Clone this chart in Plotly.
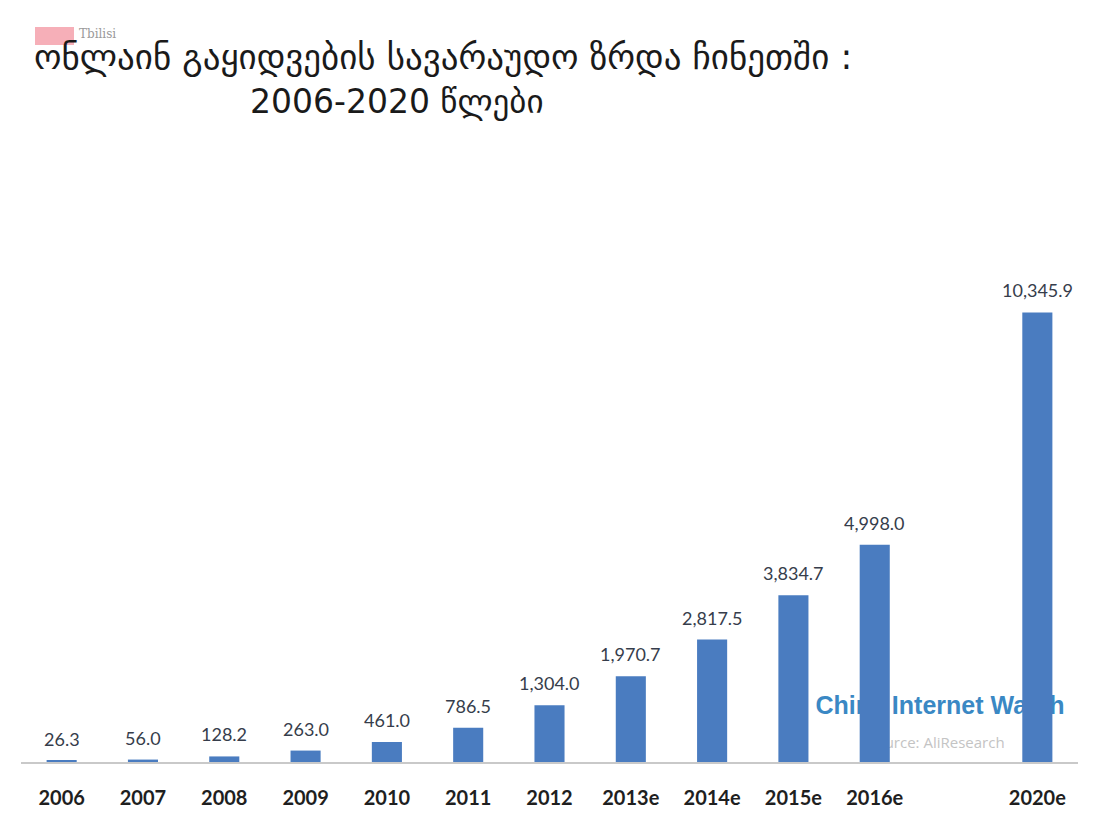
import plotly.graph_objects as go

# Online retail sales in China (values as labelled on each bar)
years = ["2006", "2007", "2008", "2009", "2010", "2011", "2012",
         "2013e", "2014e", "2015e", "2016e", "2020e"]
sales = [26.3, 56.0, 128.2, 263.0, 461.0, 786.5, 1304.0,
         1970.7, 2817.5, 3834.7, 4998.0, 10345.9]
# category order on the axis, with an empty slot before the 2020 forecast
axis_order = years[:11] + [" "] + years[11:]

title_line1 = "ონლაინ გაყიდვების სავარაუდო ზრდა ჩინეთში :"
title_line2 = "2006-2020 წლები"
watermark = "China Internet Watch"
source_note = "Source: AliResearch"
logo_text = "Tbilisi"

bar_color = "#4a7cc0"
label_color = "#363d4b"

W, H = 1112, 836
ML, MR, MT, MB = 21, 34, 284, 74
PW, PH = W - ML - MR, H - MT - MB


def px_x(x):
    """Page pixel x -> paper coordinate."""
    return (x - ML) / PW


def px_y(y):
    """Page pixel y (from top) -> paper coordinate."""
    return (H - MB - y) / PH


fig = go.Figure()

# watermark sits on the base subplot so the bars (overlay subplot) cover it
fig.add_trace(go.Scatter(
    x=[px_x(940)], y=[px_y(708)], mode="text", text=[f"<b>{watermark}</b>"],
    textfont=dict(family="Liberation Sans Narrow, Liberation Sans, sans-serif",
                  size=25, color="#3a88c4"),
    hoverinfo="skip", showlegend=False, xaxis="x", yaxis="y",
))
fig.add_trace(go.Scatter(
    x=[px_x(936)], y=[px_y(744)], mode="text", text=[source_note],
    textfont=dict(family="Open Sans, sans-serif", size=15, color="#c4c4c4"),
    hoverinfo="skip", showlegend=False, xaxis="x", yaxis="y",
))

fig.add_trace(go.Bar(
    x=years, y=sales, marker=dict(color=bar_color, line=dict(width=0)),
    xaxis="x2", yaxis="y2", showlegend=False, hoverinfo="x+y",
))

# value labels above each bar (positioned by category index)
for yr, v in zip(years, sales):
    fig.add_annotation(
        x=axis_order.index(yr), y=v, xref="x2", yref="y2", text=f"{v:,.1f}",
        showarrow=False, yanchor="bottom", yshift=9,
        font=dict(family="Lato, sans-serif", size=18, color=label_color),
    )

# two-line title
fig.add_annotation(
    x=px_x(32), y=px_y(57), xref="paper", yref="paper", text=title_line1,
    showarrow=False, xanchor="left", yanchor="middle",
    font=dict(family="DejaVu Sans, sans-serif", size=35, color="#1a1a1a"),
)
fig.add_annotation(
    x=px_x(248), y=px_y(101), xref="paper", yref="paper", text=title_line2,
    showarrow=False, xanchor="left", yanchor="middle",
    font=dict(family="DejaVu Sans, sans-serif", size=33, color="#1a1a1a"),
)

# small logo in the top-left corner
fig.add_shape(
    type="rect", xref="paper", yref="paper",
    x0=px_x(35), x1=px_x(74), y0=px_y(45), y1=px_y(27),
    fillcolor="rgba(238,110,125,0.55)", line=dict(width=0), layer="below",
)
fig.add_annotation(
    x=px_x(77), y=px_y(34), xref="paper", yref="paper", text=logo_text,
    showarrow=False, xanchor="left", yanchor="middle",
    font=dict(family="DejaVu Serif, serif", size=12, color="#9a9a9a"),
)

fig.update_layout(
    width=W, height=H,
    margin=dict(l=ML, r=MR, t=MT, b=MB),
    paper_bgcolor="white", plot_bgcolor="white",
    xaxis=dict(range=[0, 1], visible=False, fixedrange=True),
    yaxis=dict(range=[0, 1], visible=False, fixedrange=True),
    xaxis2=dict(
        overlaying="x", type="category", categoryorder="array",
        categoryarray=axis_order, range=[-0.5, len(axis_order) - 0.5],
        showline=True, linecolor="#c9c9c9", linewidth=2,
        showgrid=False, zeroline=False, ticks="", ticklabelstandoff=17,
        tickfont=dict(family="Lato, sans-serif", size=20, color="#1f1f1f", weight="bold"),
    ),
    yaxis2=dict(
        overlaying="y", range=[0, 11000], visible=False, showgrid=False,
    ),
    bargap=0.63,
)

fig.write_html("out.html")
